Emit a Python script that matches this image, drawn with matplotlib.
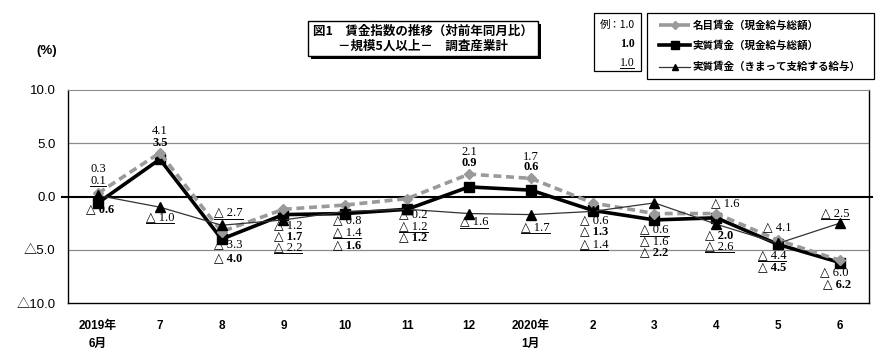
import matplotlib
matplotlib.use("Agg")
import matplotlib.pyplot as plt
from matplotlib.lines import Line2D
from matplotlib.patches import Rectangle
from matplotlib.transforms import IdentityTransform

# ---------------- data ----------------
categories = ["2019年\n6月", "7", "8", "9", "10", "11", "12", "2020年\n1月", "2", "3", "4", "5", "6"]
nominal = [0.3, 4.1, -3.3, -1.2, -0.8, -0.2, 2.1, 1.7, -0.6, -1.6, -1.6, -4.1, -6.0]
real = [-0.6, 3.5, -4.0, -1.7, -1.6, -1.2, 0.9, 0.6, -1.3, -2.2, -2.0, -4.5, -6.2]
scheduled = [0.1, -1.0, -2.7, -2.2, -1.4, -1.2, -1.6, -1.7, -1.4, -0.6, -2.6, -4.4, -2.5]
yticks = [10.0, 5.0, 0.0, -5.0, -10.0]
series_names = ["名目賃金（現金給与総額）", "実質賃金（現金給与総額）", "実質賃金（きまって支給する給与）"]
title_lines = ["図1　賃金指数の推移（対前年同月比）", "－規模5人以上－　調査産業計"]

# label layout: (dx in category units, y in data units)
nominal_lbl = [(0.0, 2.6), (0.0, 6.15), (0.11, -4.6), (0.07, -2.75), (0.03, -2.35), (0.1, -1.75),
               (0.0, 4.15), (0.0, 3.75), (0.02, -2.35), (0.0, -4.25), (0.14, -0.75), (-0.02, -3.0), (-0.1, -7.2)]
real_lbl = [(0.03, -1.3), (0.0, 5.0), (0.11, -5.9), (0.07, -3.8), (0.03, -4.65), (0.1, -3.95),
            (0.0, 3.15), (0.0, 2.75), (0.02, -3.35), (0.0, -5.35), (0.05, -3.75), (-0.1, -6.75), (-0.05, -8.3)]
sched_lbl = [(0.0, 1.5), (0.0, -2.0), (0.11, -1.6), (0.07, -4.85), (0.03, -3.45), (0.1, -2.9),
             (0.08, -2.45), (0.08, -2.95), (0.02, -4.55), (0.0, -3.2), (0.05, -4.75), (-0.1, -5.6), (-0.08, -1.65)]

# ---------------- fonts ----------------
JP = ["Noto Sans CJK JP", "DejaVu Sans"]
LBL = ["Liberation Serif", "DejaVu Sans"]
SANS = ["Liberation Sans", "Noto Sans CJK JP", "DejaVu Sans"]
plt.rcParams["font.family"] = JP


def fmt(v):
    return ("△ %.1f" % abs(v)) if v < 0 else ("%.1f" % v)


W, H = 890, 363
fig = plt.figure(figsize=(W / 100, H / 100), dpi=100)
ax = fig.add_axes([68 / W, 1 - 303 / H, (869 - 68) / W, (303 - 90) / H])

x = list(range(len(categories)))
ax.set_xlim(-0.485, 12.47)
ax.set_ylim(-10, 10)

for g in (5, -5):
    ax.axhline(g, color="#8c8c8c", lw=0.9, zorder=1)
ax.axhline(0, xmin=-0.007, xmax=1.004, color="black", lw=1.5, zorder=1, clip_on=False)

l_real, = ax.plot(x, real, color="black", lw=2.6, marker="s", ms=7, zorder=3)
l_nom, = ax.plot(x, nominal, color="#9a9a9a", lw=2.6, ls=(0, (2.2, 1.3)), marker="D", ms=5.5, zorder=4)
l_sch, = ax.plot(x, scheduled, color="#333333", lw=0.9, marker="^", ms=6.5, mfc="black", mec="black", zorder=5)

for s in ("left", "bottom", "right"):
    ax.spines[s].set_color("black")
    ax.spines[s].set_linewidth(1.0)
ax.spines["top"].set_color("#8c8c8c")

ax.set_yticks(yticks)
ax.set_yticklabels(["%.1f" % v if v >= 0 else "△%.1f" % abs(v) for v in yticks], fontsize=9.5,
                   family=SANS)
ax.set_xticks(x)
ax.set_xticklabels(categories, fontsize=8.5, family=SANS, fontweight="bold", linespacing=1.7, va="top")
ax.tick_params(axis="both", length=0)
ax.tick_params(axis="x", pad=12)
ax.tick_params(axis="y", pad=9)
fig.text(47 / W, 1 - 51 / H, "(%)", ha="center", va="center", fontsize=9.5, family=SANS, fontweight="bold")

underlined = []
for i in x:
    dx, yy = nominal_lbl[i]
    ax.text(i + dx, yy, fmt(nominal[i]), ha="center", va="center", fontsize=9, family=LBL, zorder=6)
    dx, yy = real_lbl[i]
    ax.text(i + dx, yy, fmt(real[i]), ha="center", va="center", fontsize=9, family=LBL,
            fontweight="bold", zorder=6)
    dx, yy = sched_lbl[i]
    t = ax.text(i + dx, yy, fmt(scheduled[i]), ha="center", va="center", fontsize=9, family=LBL, zorder=6)
    underlined.append(t)

# title box with shadow
fig.add_artist(Rectangle((311 / W, 1 - 59 / H), (538 - 308) / W, (56 - 21) / H, transform=fig.transFigure,
                         facecolor="black", edgecolor="black", lw=0))
fig.add_artist(Rectangle((308 / W, 1 - 56 / H), (538 - 308) / W, (56 - 21) / H, transform=fig.transFigure,
                         facecolor="white", edgecolor="black", lw=1.0))
fig.text(423 / W, 1 - 31 / H, title_lines[0], ha="center", va="center", fontsize=9, fontweight="bold")
fig.text(423 / W, 1 - 46 / H, title_lines[1], ha="center", va="center", fontsize=9, fontweight="bold")

# example box
fig.add_artist(Rectangle((594 / W, 1 - 71 / H), (641 - 594) / W, (71 - 13) / H, transform=fig.transFigure,
                         facecolor="white", edgecolor="black", lw=0.9))
fig.text(617 / W, 1 - 25 / H, "例：1.0", ha="center", va="center", fontsize=7.5, family=["Noto Sans CJK JP"])
fig.text(627 / W, 1 - 44 / H, "1.0", ha="center", va="center", fontsize=8.5, family=LBL, fontweight="bold")
ex_u = fig.text(627 / W, 1 - 63 / H, "1.0", ha="center", va="center", fontsize=8.5, family=LBL)

# legend box
fig.add_artist(Rectangle((647 / W, 1 - 79 / H), (874 - 647) / W, (79 - 13) / H, transform=fig.transFigure,
                         facecolor="white", edgecolor="black", lw=0.9))
rows = [25, 45, 67]
for (line, name, ry) in zip([l_nom, l_real, l_sch], series_names, rows):
    yy = 1 - ry / H
    fig.add_artist(Line2D([659 / W, 690 / W], [yy, yy], transform=fig.transFigure, color=line.get_color(),
                          lw=line.get_linewidth(), ls=line.get_linestyle(), zorder=5))
    fig.add_artist(Line2D([675 / W], [yy], transform=fig.transFigure, marker=line.get_marker(),
                          ms=line.get_markersize() * 0.75, color=line.get_color(),
                          mfc=line.get_markerfacecolor(), mec=line.get_markeredgecolor(), ls="none", zorder=6))
    fig.text(693 / W, yy, name, ha="left", va="center", fontsize=7.6, fontweight="bold")

# underlines
fig.canvas.draw()
r = fig.canvas.get_renderer()
for t in underlined + [ex_u]:
    bb = t.get_window_extent(r)
    y0 = bb.y0 + 1
    fig.add_artist(Line2D([bb.x0, bb.x1], [y0, y0], transform=IdentityTransform(), color="black", lw=0.7))

fig.savefig("out.png", dpi=100)
